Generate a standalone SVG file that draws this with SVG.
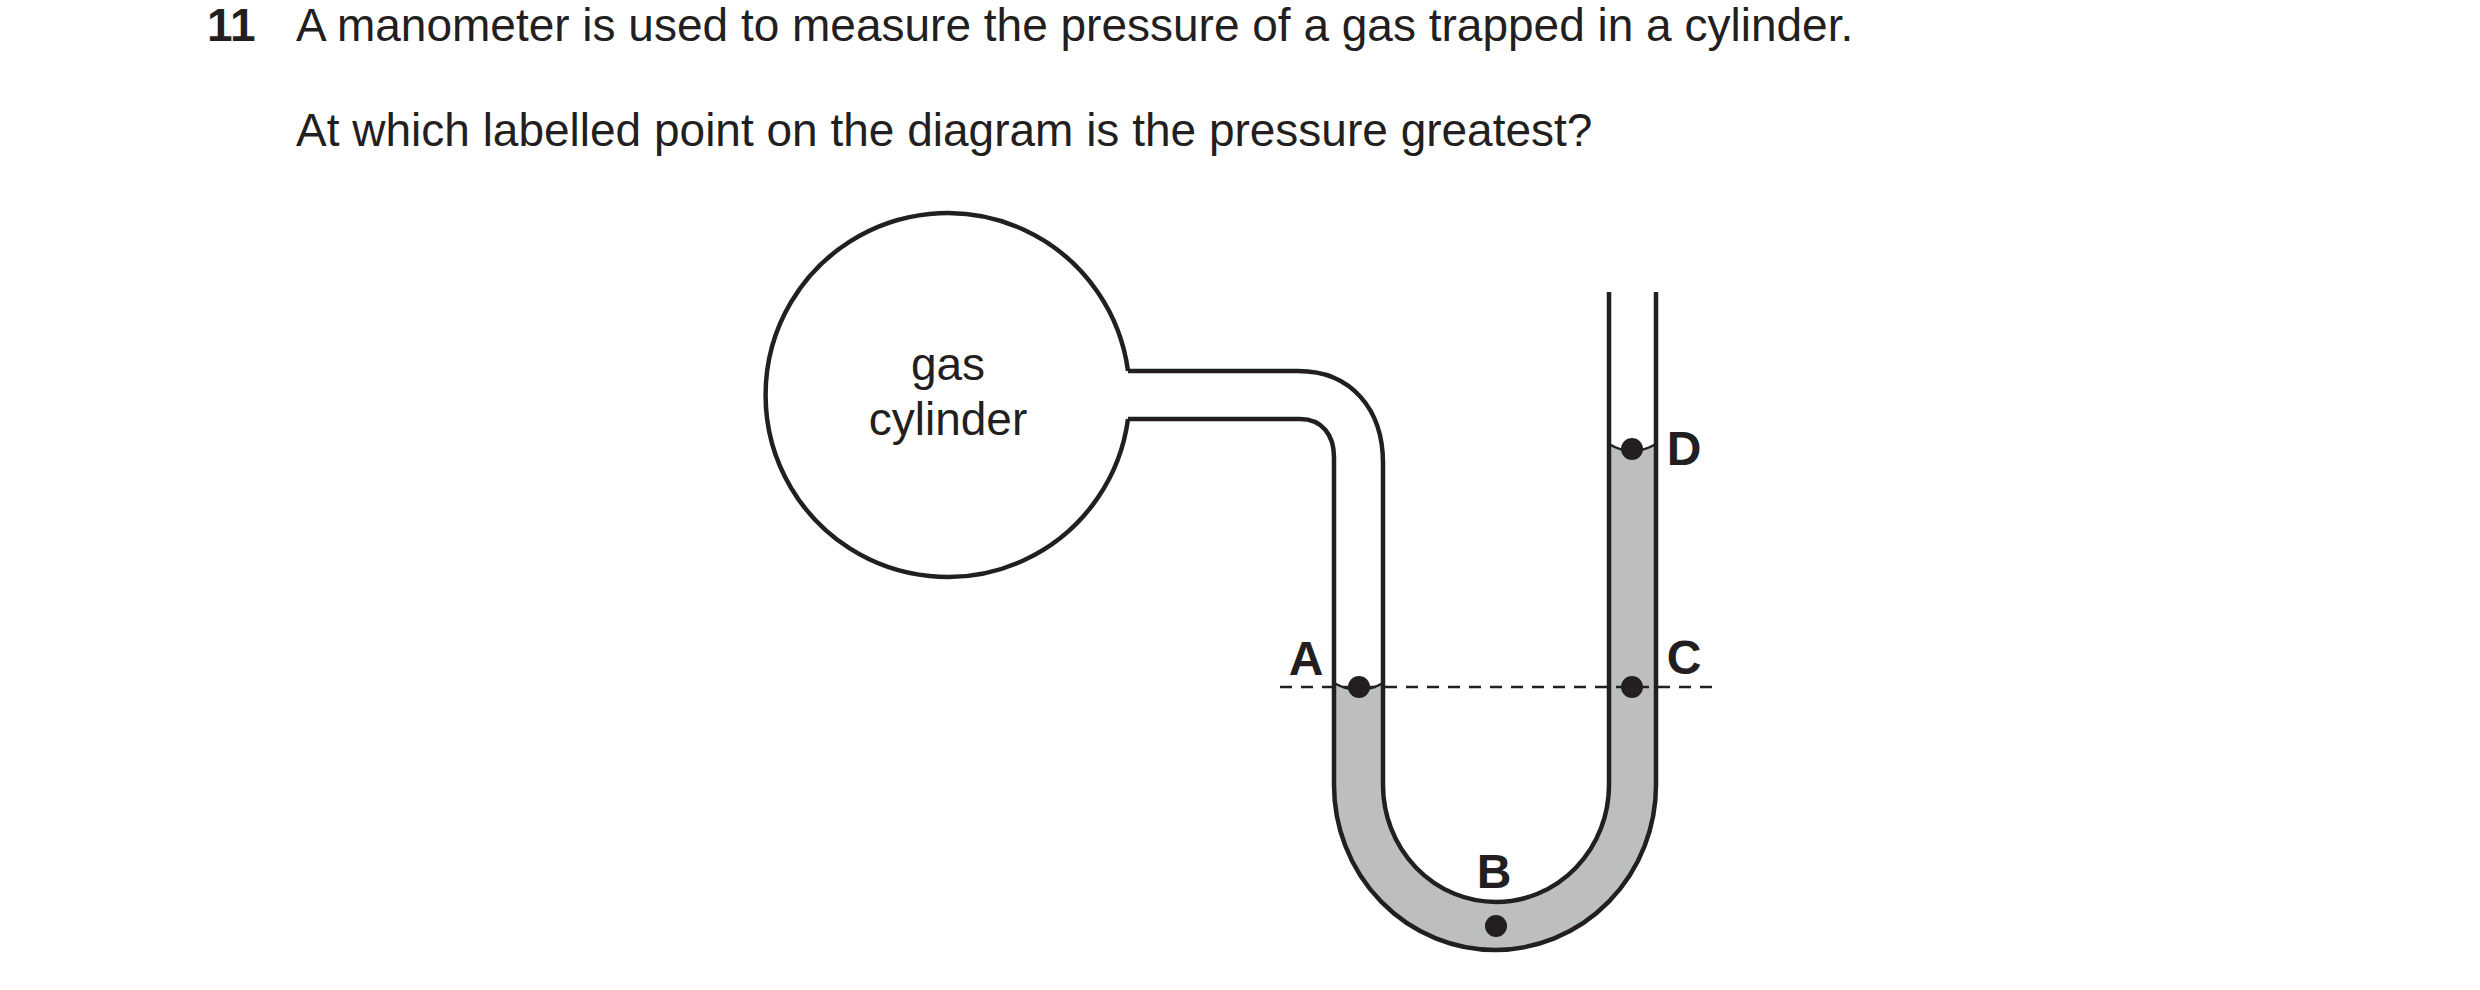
<svg xmlns="http://www.w3.org/2000/svg" width="2480" height="990" viewBox="0 0 2480 990">
<style>
.t{font-family:"Liberation Sans",Arial,sans-serif;font-size:46px;fill:#231f20}
.b{font-family:"Liberation Sans",Arial,sans-serif;font-size:48px;font-weight:bold;fill:#231f20;text-anchor:middle}
.w{fill:none;stroke:#231f20;stroke-width:4.5}
.m{fill:none;stroke:#231f20;stroke-width:2.5}
.d{fill:#231f20}
</style>
<rect width="2480" height="990" fill="#fff"/>
<text class="t" x="207" y="41" font-weight="bold">11</text>
<text class="t" x="296" y="41">A manometer is used to measure the pressure of a gas trapped in a cylinder.</text>
<text class="t" x="296" y="146">At which labelled point on the diagram is the pressure greatest?</text>
<g id="liquid">
<path fill="#bdbec0" d="M1334,683 Q1359,697 1383,683 V785 A113,117 0 0 0 1609,785 V444 Q1632,458 1656,444 V785 A161,165 0 0 1 1334,785 Z"/>
<path class="m" d="M1334,683 Q1359,697 1383,683 M1609,444 Q1632,458 1656,444"/>
</g>
<g id="cylinder">
<path class="w" d="M1128,371 A182,182 0 1 0 1128,419"/>
<text class="t" x="948" y="380" text-anchor="middle">gas</text>
<text class="t" x="948" y="435" text-anchor="middle">cylinder</text>
</g>
<g id="tube">
<path class="w" d="M1128,371 H1298 C1352,371 1383,410 1383,463 V785 A113,117 0 0 0 1609,785 V292"/>
<path class="w" d="M1128,419 H1300 C1322,419 1334,435 1334,457 V785 A161,165 0 0 0 1656,785 V292"/>
</g>
<g id="connectors">
<line x1="1280" y1="687" x2="1712" y2="687" stroke="#231f20" stroke-width="2.5" stroke-dasharray="12,9"/>
</g>
<g id="A"><circle class="d" cx="1359" cy="687" r="11"/><text class="b" x="1306" y="675">A</text></g>
<g id="B"><circle class="d" cx="1496" cy="926" r="11"/><text class="b" x="1494" y="888">B</text></g>
<g id="C"><circle class="d" cx="1632" cy="687" r="11"/><text class="b" x="1684" y="674">C</text></g>
<g id="D"><circle class="d" cx="1632" cy="449" r="11"/><text class="b" x="1684" y="465">D</text></g>
</svg>
